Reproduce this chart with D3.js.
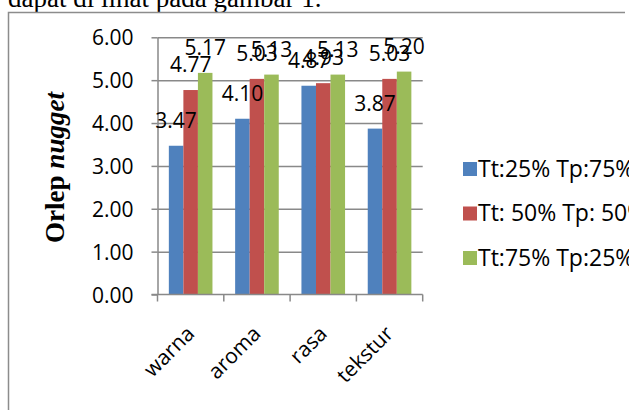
<!DOCTYPE html>
<html>
<head>
<meta charset="utf-8">
<script src="https://cdn.jsdelivr.net/npm/d3@7"></script>
<style>
  html, body { margin: 0; padding: 0; background: #fff; }
  svg { display: block; }
</style>
</head>
<body>
<script>
// data
const categories = ["warna", "aroma", "rasa", "tekstur"];
const seriesNames = ["Tt:25% Tp:75%", "Tt: 50% Tp: 50%", "Tt:75% Tp:25%"];
const seriesColors = ["#4F81BD", "#C0504D", "#9BBB59"];
const valuesTt25 = [3.47, 4.10, 4.87, 3.87];
const valuesTt50 = [4.77, 5.03, 4.93, 5.03];
const valuesTt75 = [5.17, 5.13, 5.13, 5.20];
const yTicks = [0, 1, 2, 3, 4, 5, 6];

const series = [valuesTt25, valuesTt50, valuesTt75];

const width = 629, height = 410;
const gridColor = "#898989";
const sansFont = "'Open Sans', sans-serif";

const svg = d3.select("body").append("svg")
    .attr("width", width)
    .attr("height", height);

// text cut at the top of the picture
svg.append("text")
    .attr("x", 8)
    .attr("y", 7)
    .style("font", "27px 'Liberation Serif', serif")
    .attr("fill", "#000")
    .text("dapat di lihat pada gambar 1.");

// chart frame (only top + left visible)
svg.append("path")
    .attr("d", "M8.5,420 V12.5 H625")
    .attr("fill", "none")
    .attr("stroke", "#8c8c8c")
    .attr("stroke-width", 1.5);

// scales
const x = d3.scaleBand()
    .domain(categories)
    .range([157.5, 422.7]);

const xInner = d3.scaleBand()
    .domain(d3.range(series.length))
    .range([0, x.bandwidth()])
    .paddingOuter(0.78);

const y = d3.scaleLinear()
    .domain([0, 6])
    .range([294.5, 37.3]);

const plotLeft = x.range()[0], plotRight = x.range()[1];

// gridlines
svg.append("g")
    .attr("transform", `translate(${plotLeft},0)`)
    .call(d3.axisLeft(y).tickValues(yTicks.slice(1)).tickSize(-(plotRight - plotLeft)).tickFormat(""))
    .call(g => g.select(".domain").remove())
    .call(g => g.selectAll("line").attr("stroke", gridColor).attr("stroke-width", 1.5));

// y axis with labels
svg.append("g")
    .attr("transform", `translate(${plotLeft},0)`)
    .call(d3.axisLeft(y).tickValues(yTicks).tickSize(6).tickSizeOuter(0).tickPadding(18).tickFormat(d3.format(".2f")))
    .call(g => g.select(".domain").attr("stroke", gridColor).attr("stroke-width", 1.5))
    .call(g => g.selectAll("line").attr("stroke", gridColor).attr("stroke-width", 1.5))
    .call(g => g.selectAll("text")
        .attr("fill", "#000")
        .style("font", `21px ${sansFont}`)
        .attr("dy", "0.36em"));

// bars
const bars = svg.append("g");
series.forEach((vals, si) => {
  bars.selectAll(null)
    .data(vals.map((v, i) => ({ cat: categories[i], v })))
    .join("rect")
      .attr("x", d => x(d.cat) + xInner(si))
      .attr("width", xInner.bandwidth())
      .attr("y", d => y(d.v))
      .attr("height", d => y(0) - y(d.v))
      .attr("fill", seriesColors[si]);
});

// x axis line and ticks at category boundaries
const boundaries = categories.map(c => x(c)).concat([plotRight]);
svg.append("line")
    .attr("x1", plotLeft - 6).attr("x2", plotRight)
    .attr("y1", y(0)).attr("y2", y(0))
    .attr("stroke", gridColor).attr("stroke-width", 1.5);
svg.append("g")
  .selectAll("line")
  .data(boundaries)
  .join("line")
    .attr("x1", d => d).attr("x2", d => d)
    .attr("y1", y(0)).attr("y2", y(0) + 7)
    .attr("stroke", gridColor).attr("stroke-width", 1.5);

// rotated category labels
svg.append("g")
  .selectAll("text")
  .data(categories)
  .join("text")
    .attr("transform", d => `translate(${x(d) + x.bandwidth() / 2 + 5},${335}) rotate(-45)`)
    .attr("text-anchor", "end")
    .style("font", `21px ${sansFont}`)
    .attr("fill", "#000")
    .text(d => d);

// data labels
const labels = svg.append("g");
series.forEach((vals, si) => {
  labels.selectAll(null)
    .data(vals.map((v, i) => ({ cat: categories[i], v })))
    .join("text")
      .attr("x", d => x(d.cat) + xInner(si) + xInner.bandwidth() / 2)
      .attr("y", d => y(d.v) - 18)
      .attr("text-anchor", "middle")
      .style("font", `21px ${sansFont}`)
      .attr("fill", "#000")
      .text(d => d3.format(".2f")(d.v));
});

// y axis title
const title = svg.append("text")
    .attr("transform", "translate(64,167.5) rotate(-90)")
    .attr("text-anchor", "middle")
    .style("font", "bold 27px 'Liberation Serif', serif")
    .attr("fill", "#000");
title.append("tspan").text("Orlep ");
title.append("tspan").style("font-style", "italic").text("nugget");

// legend (text runs past the right edge, as in the original)
const legend = svg.append("g")
    .attr("transform", "translate(463,169)");
const legendItem = legend.selectAll("g")
  .data(seriesNames)
  .join("g")
    .attr("transform", (d, i) => `translate(0,${i * 44.5})`);
legendItem.append("rect")
    .attr("y", -7)
    .attr("width", 14)
    .attr("height", 14)
    .attr("fill", (d, i) => seriesColors[i]);
legendItem.append("text")
    .attr("x", 15)
    .attr("y", 7.5)
    .style("font", `23px ${sansFont}`)
    .attr("fill", "#000")
    .text(d => d);
</script>
</body>
</html>
